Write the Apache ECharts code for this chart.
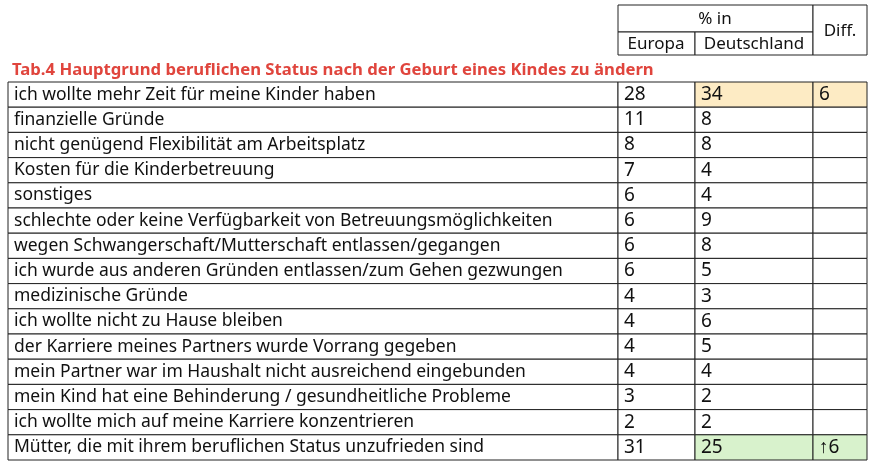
<!DOCTYPE html>
<html>
<head>
<meta charset="utf-8">
<script src="https://cdn.jsdelivr.net/npm/echarts@6/dist/echarts.min.js"></script>
<style>html,body{margin:0;padding:0;background:#fff}#main{width:875px;height:465px}</style>
</head>
<body>
<div id="main"></div>
<script>
// Daten
var gruende = [
    'ich wollte mehr Zeit für meine Kinder haben',
    'finanzielle Gründe',
    'nicht genügend Flexibilität am Arbeitsplatz',
    'Kosten für die Kinderbetreuung',
    'sonstiges',
    'schlechte oder keine Verfügbarkeit von Betreuungsmöglichkeiten',
    'wegen Schwangerschaft/Mutterschaft entlassen/gegangen',
    'ich wurde aus anderen Gründen entlassen/zum Gehen gezwungen',
    'medizinische Gründe',
    'ich wollte nicht zu Hause bleiben',
    'der Karriere meines Partners wurde Vorrang gegeben',
    'mein Partner war im Haushalt nicht ausreichend eingebunden',
    'mein Kind hat eine Behinderung / gesundheitliche Probleme',
    'ich wollte mich auf meine Karriere konzentrieren',
    'Mütter, die mit ihrem beruflichen Status unzufrieden sind'
];
var europa = [28, 11, 8, 7, 6, 6, 6, 6, 4, 4, 4, 4, 3, 2, 31];
var deutschland = [34, 8, 8, 4, 4, 9, 8, 5, 3, 6, 5, 4, 2, 2, 25];
var diff = ['6', '', '', '', '', '', '', '', '', '', '', '', '', '', '↑6'];
var highlight = { 0: '#fdebc4', 14: '#d8f2cc' };

var FONT = '"Noto Sans", sans-serif';
var cols = [8, 618, 695, 813, 867]; // Spaltengrenzen in px

var chart = echarts.init(document.getElementById('main'));

function cell(x1, x2, y, h, txt, fill, size) {
    return [{
        type: 'rect',
        shape: { x: x1, y: y, width: x2 - x1, height: h },
        style: { fill: fill || '#fff', stroke: '#222', lineWidth: 1 }
    }, {
        type: 'text',
        x: x1 + 6, y: y + h / 2,
        style: { text: txt, fill: '#111', font: (size || 17.5) + 'px ' + FONT, verticalAlign: 'middle' }
    }];
}

function head(x, y, t) {
    return { type: 'text', x: x, y: y, style: { text: t, font: '17px ' + FONT, fill: '#111', align: 'center', verticalAlign: 'middle' } };
}

var option = {
    animation: false,
    grid: { left: 8, right: 8, top: 82, bottom: 5 },
    xAxis: { type: 'value', show: false, min: 0, max: 1 },
    yAxis: { type: 'category', show: false, inverse: true, data: gruende },
    graphic: [
        { type: 'rect', shape: { x: 618, y: 5, width: 195, height: 27 }, style: { fill: '#fff', stroke: '#222' } },
        { type: 'rect', shape: { x: 618, y: 32, width: 77, height: 23 }, style: { fill: '#fff', stroke: '#222' } },
        { type: 'rect', shape: { x: 695, y: 32, width: 118, height: 23 }, style: { fill: '#fff', stroke: '#222' } },
        { type: 'rect', shape: { x: 813, y: 5, width: 54, height: 50 }, style: { fill: '#fff', stroke: '#222' } },
        head(715, 19, '% in'),
        head(656, 44, 'Europa'),
        head(754, 44, 'Deutschland'),
        head(840, 31, 'Diff.'),
        { type: 'text', x: 12, y: 70, style: { text: 'Tab.4 Hauptgrund beruflichen Status nach der Geburt eines Kindes zu ändern', font: 'bold 16.7px ' + FONT, fill: '#e0453d', verticalAlign: 'middle' } }
    ],
    series: [{
        type: 'custom',
        data: gruende.map(function (g, i) { return [0, i]; }),
        encode: { x: 0, y: 1 },
        renderItem: function (params, api) {
            var i = api.value(1);
            var c = api.coord([0, i]);
            var h = api.size([0, 1])[1];
            var y = c[1] - h / 2;
            var f = highlight[i];
            var kids = []
                .concat(cell(cols[0], cols[1], y, h, gruende[i]))
                .concat(cell(cols[1], cols[2], y, h, String(europa[i]), null, 19))
                .concat(cell(cols[2], cols[3], y, h, String(deutschland[i]), f, 19))
                .concat(cell(cols[3], cols[4], y, h, diff[i], f, 19));
            return { type: 'group', children: kids };
        }
    }]
};
chart.setOption(option);
</script>
</body>
</html>
